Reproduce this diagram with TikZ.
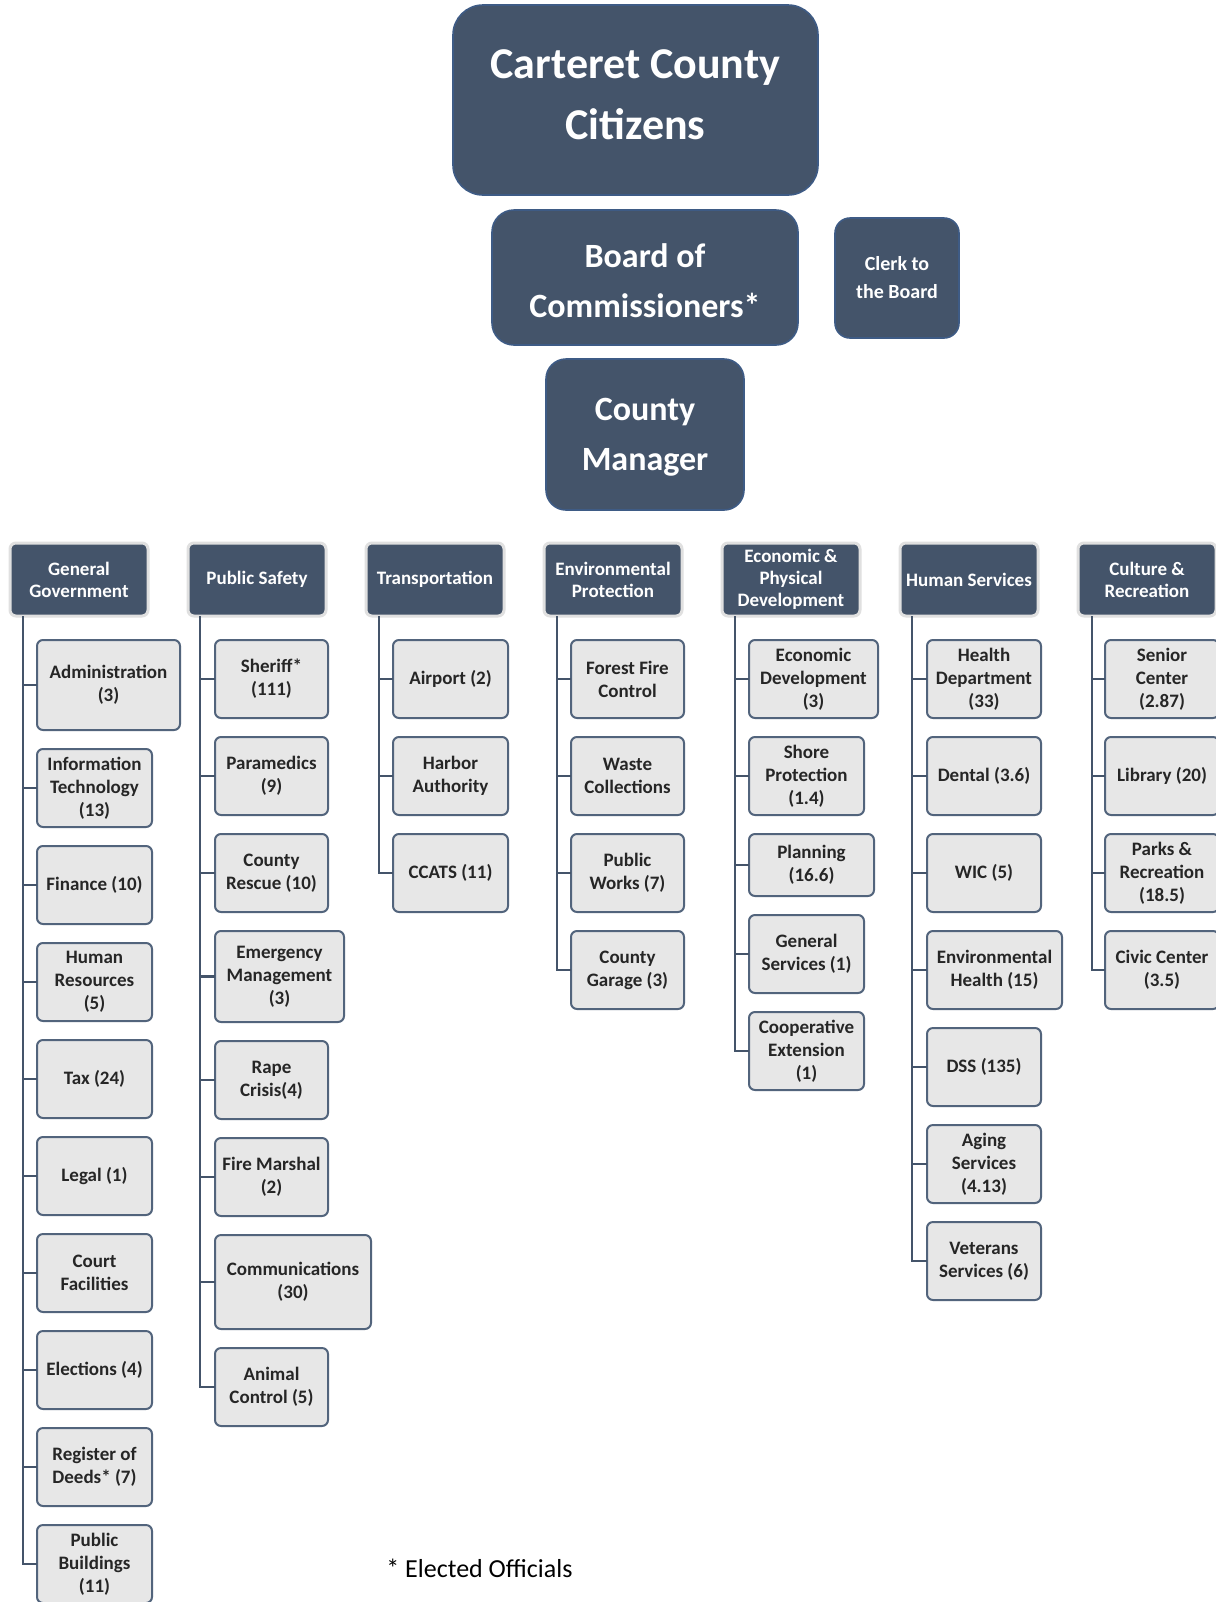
\documentclass[tikz,border=0pt]{standalone}
\usepackage{fontspec}
\setmainfont{Carlito}
\usepackage{tikz}
\usetikzlibrary{positioning}
\definecolor{slate}{HTML}{44546A}
\definecolor{slateedge}{HTML}{3E5B85}
\definecolor{unitgray}{HTML}{E7E7E7}
\definecolor{unitedge}{HTML}{52647C}
\tikzset{
  topbox/.style={rectangle, rounded corners=#1, draw=slateedge, line width=0.8pt, fill=slate,
                 text=white, align=center, outer sep=0pt},
  toptext/.style={text=white, align=center, inner sep=0pt},
  hdrbox/.style={rectangle, rounded corners=3pt, draw=black!12, line width=1.5pt, fill=slate,
                 text=white, align=center, minimum width=69pt, minimum height=36.5pt, outer sep=0pt,
                 inner xsep=1pt, inner ysep=1pt, font=\fontsize{9.5}{11}\selectfont\bfseries},
  unitbox/.style={rectangle, rounded corners=3pt, draw=unitedge, line width=1pt, fill=unitgray,
                  text=black!85, align=center, minimum width=57.5pt, minimum height=39pt, outer sep=0pt,
                  inner xsep=1pt, inner ysep=2pt, font=\fontsize{9.5}{11.5}\selectfont\bfseries},
  link/.style={draw=slate, line width=1.3pt},
}

\begin{document}
\begin{tikzpicture}[x=0.5pt, y=-0.5pt, node distance=9.5pt]
    \useasboundingbox (0,0) rectangle (1216,1602);
    \fill[white] (0,0) rectangle (1216,1602);

    % top of the chart
    \node[topbox=15pt, minimum width=182.5pt, minimum height=95pt,
          label={[name=citizenstxt, toptext, yshift=2.5pt, font=\fontsize{22}{30.5}\selectfont\bfseries]center:Carteret County\\Citizens}]
          (citizens) at (635.5,100) {};
    \node[topbox=11pt, minimum width=153pt, minimum height=67.5pt,
          label={[name=boardtxt, toptext, yshift=-1.5pt, font=\fontsize{17}{25}\selectfont\bfseries]center:Board of\\Commissioners*}]
          (board) at (645,277.5) {};
    \node[topbox=7.5pt, minimum width=62pt, minimum height=60pt,
          font=\fontsize{10}{14}\selectfont\bfseries] (clerk) at (897,278) {Clerk to\\the Board};
    \node[topbox=10pt, minimum width=99pt, minimum height=75.5pt,
          label={[name=managertxt, toptext, yshift=-1.5pt, font=\fontsize{17}{25}\selectfont\bfseries]center:County\\Manager}]
          (manager) at (645,434.5) {};

    % departments
    \node[hdrbox, anchor=north west] (gengov) at (10,543) {General\\Government};
    \node[hdrbox, right=20pt of gengov] (pubsafe) {Public Safety};
    \node[hdrbox, right=20pt of pubsafe] (transp) {Transportation};
    \node[hdrbox, right=20pt of transp] (envprot) {Environmental\\Protection};
    \node[hdrbox, right=20pt of envprot] (econdev) {Economic \&\\Physical\\Development};
    \node[hdrbox, right=20pt of econdev] (humserv) {Human Services};
    \node[hdrbox, right=20pt of humserv] (culture) {Culture \&\\Recreation};

    % General Government
    \node[unitbox, minimum width=71.5pt, minimum height=45pt,
          below right=12pt and 13.5pt of gengov.south west] (gg1) {Administration\\(3)};
    \node[unitbox, below=of gg1.south west, anchor=north west] (gg2) {Information\\Technology\\(13)};
    \node[unitbox, below=of gg2.south west, anchor=north west] (gg3) {Finance (10)};
    \node[unitbox, below=of gg3.south west, anchor=north west] (gg4) {Human\\Resources\\(5)};
    \node[unitbox, below=of gg4.south west, anchor=north west] (gg5) {Tax (24)};
    \node[unitbox, below=of gg5.south west, anchor=north west] (gg6) {Legal (1)};
    \node[unitbox, below=of gg6.south west, anchor=north west] (gg7) {Court\\Facilities};
    \node[unitbox, below=of gg7.south west, anchor=north west] (gg8) {Elections (4)};
    \node[unitbox, below=of gg8.south west, anchor=north west] (gg9) {Register of\\Deeds* (7)};
    \node[unitbox, below=of gg9.south west, anchor=north west] (gg10) {Public\\Buildings\\(11)};
    \coordinate (ggtop) at ([xshift=6.5pt]gengov.south west);
    \draw[link] (ggtop) |- (gg1.west) (ggtop) |- (gg2.west) (ggtop) |- (gg3.west) (ggtop) |- (gg4.west)
                (ggtop) |- (gg5.west) (ggtop) |- (gg6.west) (ggtop) |- (gg7.west) (ggtop) |- (gg8.west)
                (ggtop) |- (gg9.west) (ggtop) |- (gg10.west);

    % Public Safety
    \node[unitbox, minimum width=56.5pt,
          below right=12pt and 13.5pt of pubsafe.south west] (ps1) {Sheriff*\\(111)};
    \node[unitbox, minimum width=56.5pt, below=of ps1.south west, anchor=north west] (ps2) {Paramedics\\(9)};
    \node[unitbox, minimum width=56.5pt, below=of ps2.south west, anchor=north west] (ps3) {County\\Rescue (10)};
    \node[unitbox, minimum width=64.5pt, minimum height=45.5pt,
          below=of ps3.south west, anchor=north west] (ps4) {Emergency\\Management\\(3)};
    \node[unitbox, minimum width=56.5pt, below=of ps4.south west, anchor=north west] (ps5) {Rape\\Crisis(4)};
    \node[unitbox, minimum width=56.5pt, below=of ps5.south west, anchor=north west] (ps6) {Fire Marshal\\(2)};
    \node[unitbox, minimum width=78pt, minimum height=47pt,
          below=of ps6.south west, anchor=north west] (ps7) {Communications\\(30)};
    \node[unitbox, minimum width=56.5pt, below=of ps7.south west, anchor=north west] (ps8) {Animal\\Control (5)};
    \coordinate (pstop) at ([xshift=6pt]pubsafe.south west);
    \draw[link] (pstop) |- (ps1.west) (pstop) |- (ps2.west) (pstop) |- (ps3.west) (pstop) |- (ps4.west)
                (pstop) |- (ps5.west) (pstop) |- (ps6.west) (pstop) |- (ps7.west) (pstop) |- (ps8.west);

    % Transportation
    \node[unitbox, below right=12pt and 13.5pt of transp.south west] (tr1) {Airport (2)};
    \node[unitbox, below=of tr1.south west, anchor=north west] (tr2) {Harbor\\Authority};
    \node[unitbox, below=of tr2.south west, anchor=north west] (tr3) {CCATS (11)};
    \coordinate (trtop) at ([xshift=6.5pt]transp.south west);
    \draw[link] (trtop) |- (tr1.west) (trtop) |- (tr2.west) (trtop) |- (tr3.west);

    % Environmental Protection
    \node[unitbox, minimum width=56.5pt,
          below right=12pt and 13.5pt of envprot.south west] (ep1) {Forest Fire\\Control};
    \node[unitbox, minimum width=56.5pt, below=of ep1.south west, anchor=north west] (ep2) {Waste\\Collections};
    \node[unitbox, minimum width=56.5pt, below=of ep2.south west, anchor=north west] (ep3) {Public\\Works (7)};
    \node[unitbox, minimum width=56.5pt, below=of ep3.south west, anchor=north west] (ep4) {County\\Garage (3)};
    \coordinate (eptop) at ([xshift=6.5pt]envprot.south west);
    \draw[link] (eptop) |- (ep1.west) (eptop) |- (ep2.west) (eptop) |- (ep3.west) (eptop) |- (ep4.west);

    % Economic & Physical Development
    \node[unitbox, minimum width=64.5pt,
          below right=12pt and 13.5pt of econdev.south west] (ed1) {Economic\\Development\\(3)};
    \node[unitbox, below=of ed1.south west, anchor=north west] (ed2) {Shore\\Protection\\(1.4)};
    \node[unitbox, minimum width=62.5pt, minimum height=31pt,
          below=of ed2.south west, anchor=north west] (ed3) {Planning\\(16.6)};
    \node[unitbox, below=of ed3.south west, anchor=north west] (ed4) {General\\Services (1)};
    \node[unitbox, below=of ed4.south west, anchor=north west] (ed5) {Cooperative\\Extension\\(1)};
    \coordinate (edtop) at ([xshift=6.5pt]econdev.south west);
    \draw[link] (edtop) |- (ed1.west) (edtop) |- (ed2.west) (edtop) |- (ed3.west) (edtop) |- (ed4.west)
                (edtop) |- (ed5.west);

    % Human Services
    \node[unitbox, minimum width=57pt,
          below right=12pt and 13.5pt of humserv.south west] (hs1) {Health\\Department\\(33)};
    \node[unitbox, minimum width=57pt, below=of hs1.south west, anchor=north west] (hs2) {Dental (3.6)};
    \node[unitbox, minimum width=57pt, below=of hs2.south west, anchor=north west] (hs3) {WIC (5)};
    \node[unitbox, minimum width=67.5pt, below=of hs3.south west, anchor=north west] (hs4) {Environmental\\Health (15)};
    \node[unitbox, minimum width=57pt, below=of hs4.south west, anchor=north west] (hs5) {DSS (135)};
    \node[unitbox, minimum width=57pt, below=of hs5.south west, anchor=north west] (hs6) {Aging\\Services\\(4.13)};
    \node[unitbox, minimum width=57pt, below=of hs6.south west, anchor=north west] (hs7) {Veterans\\Services (6)};
    \coordinate (hstop) at ([xshift=6pt]humserv.south west);
    \draw[link] (hstop) |- (hs1.west) (hstop) |- (hs2.west) (hstop) |- (hs3.west) (hstop) |- (hs4.west)
                (hstop) |- (hs5.west) (hstop) |- (hs6.west) (hstop) |- (hs7.west);

    % Culture & Recreation
    \node[unitbox, minimum width=57pt,
          below right=12pt and 13.5pt of culture.south west] (cr1) {Senior\\Center\\(2.87)};
    \node[unitbox, minimum width=57pt, below=of cr1.south west, anchor=north west] (cr2) {Library (20)};
    \node[unitbox, minimum width=57pt, below=of cr2.south west, anchor=north west] (cr3) {Parks \&\\Recreation\\(18.5)};
    \node[unitbox, minimum width=57pt, below=of cr3.south west, anchor=north west] (cr4) {Civic Center\\(3.5)};
    \coordinate (crtop) at ([xshift=7pt]culture.south west);
    \draw[link] (crtop) |- (cr1.west) (crtop) |- (cr2.west) (crtop) |- (cr3.west) (crtop) |- (cr4.west);

    \node[anchor=base west, inner sep=0pt, font=\fontsize{13}{15}\selectfont] (note) at (386,1577) {* Elected Officials};
\end{tikzpicture}
\end{document}
